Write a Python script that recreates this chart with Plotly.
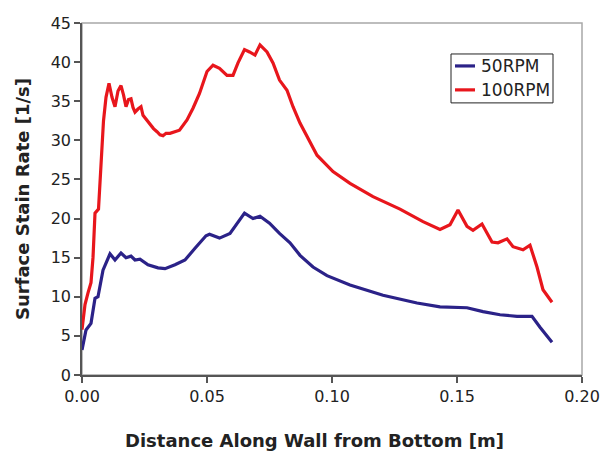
import plotly.graph_objects as go

# ---- data ----
x_100 = [0, 0.0012, 0.0024, 0.0036, 0.0044, 0.0052, 0.0066, 0.0072, 0.0078, 0.0086, 0.0096,
         0.0108, 0.0120, 0.0132, 0.0144, 0.0156, 0.0166, 0.0176, 0.0186, 0.0196, 0.0204,
         0.0212, 0.0224, 0.0236, 0.0244, 0.0256, 0.0272, 0.0286, 0.0300, 0.0312, 0.0324,
         0.0336, 0.0352, 0.0370, 0.0390, 0.0420, 0.0444, 0.0470, 0.0500, 0.0524, 0.0550,
         0.0580, 0.0604, 0.0624, 0.0650, 0.0670, 0.0692, 0.0712, 0.0740, 0.0764, 0.0790,
         0.0820, 0.0844, 0.0872, 0.0940, 0.1004, 0.1072, 0.1164, 0.1272, 0.1364, 0.1432,
         0.1472, 0.1504, 0.1540, 0.1564, 0.1600, 0.1640, 0.1664, 0.1700, 0.1724, 0.1764,
         0.1792, 0.1820, 0.1844, 0.1880]
y_100 = [5.8, 9.0, 10.5, 11.8, 15.0, 20.7, 21.2, 24.5, 29.0, 32.5, 35.5,
         37.3, 35.5, 34.3, 36.3, 37.0, 35.8, 34.3, 35.2, 35.3, 34.2,
         33.6, 34.0, 34.3, 33.2, 32.7, 32.0, 31.5, 31.1, 30.7, 30.6,
         30.9, 30.9, 31.1, 31.3, 32.6, 34.1, 36.0, 38.8, 39.6, 39.2,
         38.3, 38.3, 39.9, 41.6, 41.3, 40.9, 42.2, 41.3, 39.9, 37.7,
         36.4, 34.3, 32.2, 28.1, 26.0, 24.5, 22.8, 21.2, 19.6, 18.6,
         19.2, 21.1, 19.0, 18.5, 19.3, 17.0, 16.9, 17.4, 16.4, 16.0,
         16.6, 13.8, 10.9, 9.3]

x_50 = [0, 0.0016, 0.0036, 0.0052, 0.0064, 0.0084, 0.0112, 0.0132, 0.0156, 0.0176,
        0.0196, 0.0212, 0.0232, 0.0264, 0.0304, 0.0332, 0.0372, 0.0412, 0.0452, 0.0496,
        0.0510, 0.0550, 0.0592, 0.0620, 0.0650, 0.0684, 0.0712, 0.0750, 0.0790, 0.0832,
        0.0872, 0.0924, 0.0980, 0.1072, 0.1204, 0.1340, 0.1432, 0.1540, 0.1604, 0.1672,
        0.1740, 0.1800, 0.1832, 0.1880]
y_50 = [3.2, 5.75, 6.6, 9.8, 10.0, 13.4, 15.5, 14.7, 15.6, 15.0,
        15.2, 14.7, 14.8, 14.1, 13.7, 13.6, 14.1, 14.7, 16.2, 17.8,
        18.0, 17.5, 18.1, 19.4, 20.7, 20.0, 20.3, 19.4, 18.1, 16.9,
        15.3, 13.8, 12.7, 11.5, 10.2, 9.2, 8.7, 8.6, 8.1, 7.7,
        7.5, 7.5, 6.1, 4.2]

series_names = ["50RPM", "100RPM"]
x_ticks = [0, 0.05, 0.10, 0.15, 0.20]
x_tick_labels = ["0.00", "0.05", "0.10", "0.15", "0.20"]
y_ticks = [0, 5, 10, 15, 20, 25, 30, 35, 40, 45]
x_title = "Distance Along Wall from Bottom [m]"
y_title = "Surface Stain Rate [1/s]"

WIDE = "DejaVu Sans, Verdana, sans-serif"
TXT = "#222222"
BLUE = "#2B2288"
RED = "#E8161C"
colors = [BLUE, RED]

fig = go.Figure()
fig.add_trace(go.Scatter(x=x_50, y=y_50, mode="lines", name=series_names[0],
                         line=dict(color=BLUE, width=3.2)))
fig.add_trace(go.Scatter(x=x_100, y=y_100, mode="lines", name=series_names[1],
                         line=dict(color=RED, width=3.2)))

# plot frame + legend box drawn in paper coordinates
shapes = [
    dict(type="rect", xref="paper", yref="paper", x0=0, y0=0, x1=1, y1=1,
         line=dict(color="#A8A8A8", width=1.5), layer="below"),
    dict(type="rect", xref="paper", yref="paper", x0=0.738, x1=0.942, y0=0.773, y1=0.912,
         line=dict(color=TXT, width=1), fillcolor="white", layer="above"),
]
annotations = []
leg_y = [0.878, 0.810]
for name, c, yy in zip(series_names, colors, leg_y):
    shapes.append(dict(type="line", xref="paper", yref="paper", x0=0.746, x1=0.786,
                       y0=yy, y1=yy, line=dict(color=c, width=3.2)))
    annotations.append(dict(xref="paper", yref="paper", x=0.794, y=yy, text=name,
                            showarrow=False, xanchor="left", yanchor="middle",
                            font=dict(family=WIDE, size=17, color=TXT)))

# x-axis title (slightly left of centre, as in the reference)
annotations.append(dict(xref="paper", yref="paper", x=0.464, y=-0.185,
                        text="<b>" + x_title + "</b>", showarrow=False,
                        xanchor="center", yanchor="middle",
                        font=dict(family=WIDE, size=18, color=TXT)))

fig.update_layout(
    width=603, height=453,
    margin=dict(l=82, r=21, t=23, b=78),
    paper_bgcolor="white", plot_bgcolor="white",
    font=dict(family=WIDE, color=TXT, size=16),
    showlegend=False,
    shapes=shapes,
    annotations=annotations,
)
fig.update_xaxes(
    range=[0, 0.20], tickvals=x_ticks, ticktext=x_tick_labels,
    showgrid=False, zeroline=False, automargin=False,
    showline=True, linecolor="#555555", linewidth=1.5,
    ticks="outside", ticklen=6, tickcolor="#555555", tickwidth=1.5,
    tickfont=dict(size=16, family=WIDE, color=TXT),
)
fig.update_yaxes(
    range=[0, 45], tickvals=y_ticks,
    showgrid=False, zeroline=False, automargin=False,
    showline=True, linecolor="#555555", linewidth=1.5,
    ticks="outside", ticklen=6, tickcolor="#555555", tickwidth=1.5,
    tickfont=dict(size=16, family=WIDE, color=TXT),
    title=dict(text="<b>" + y_title + "</b>",
               font=dict(size=18, family=WIDE, color=TXT), standoff=16),
)

fig.write_html("out.html")
